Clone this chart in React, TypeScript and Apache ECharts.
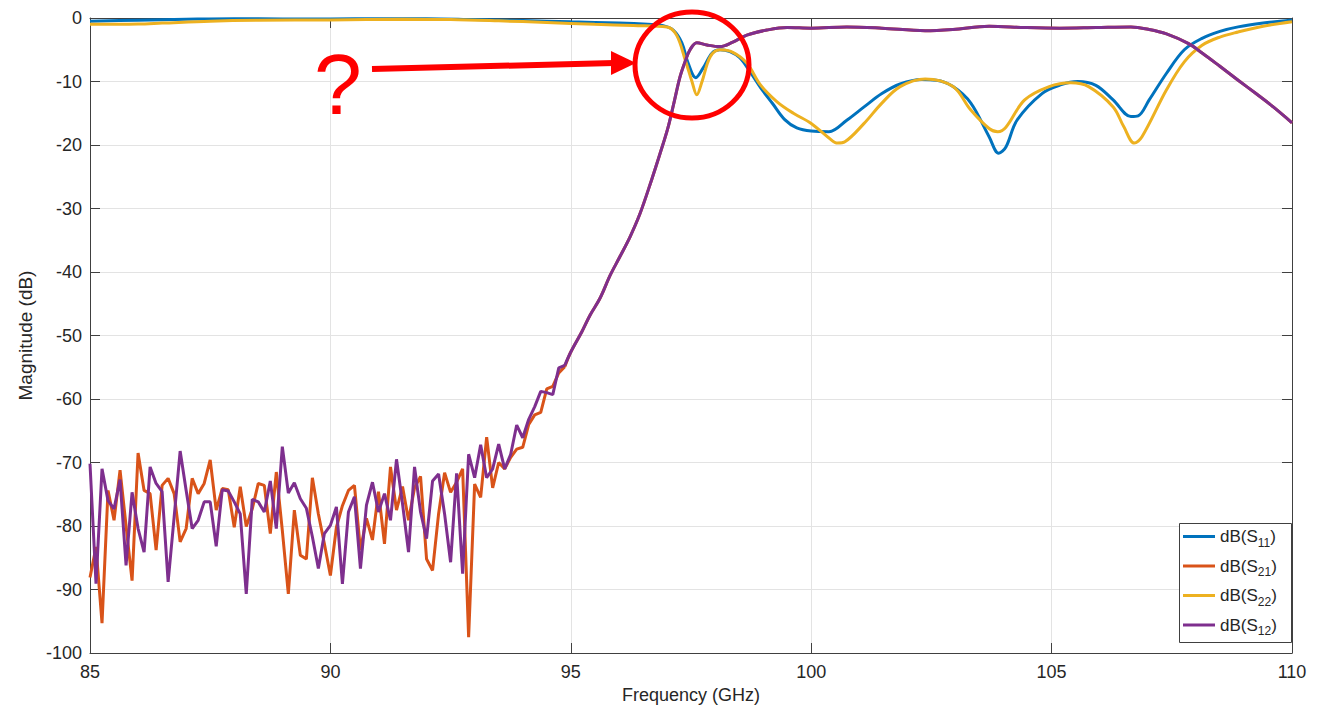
import React, { useEffect, useRef } from "react";
import * as echarts from "echarts";

// ---------- data ----------
const FREQ_MIN = 85;
const FREQ_MAX = 110;
const MAG_MIN = -100;
const MAG_MAX = 0;

// noisy stop-band sweep: 85 GHz, step 0.125 GHz
const NOISE_START = 85;
const NOISE_STEP = 0.125;

const s21Noise = [
  -88.1, -83.3, -95.3, -74.4, -79.1, -71.2, -80.0, -88.6, -68.5, -74.4,
  -74.9, -83.8, -73.6, -72.5, -74.9, -82.5, -80.4, -72.5, -74.9, -73.3,
  -69.6, -77.5, -74.1, -74.3, -80.2, -73.8, -80.1, -77.3, -73.3, -73.6,
  -81.2, -71.5, -80.7, -90.7, -77.5, -84.6, -85.2, -72.4, -78.1, -82.8,
  -87.8, -80.2, -76.8, -74.4, -73.6, -83.8, -78.8, -82.2, -74.6, -82.8,
  -70.7, -77.5, -73.8, -79.1, -74.0, -72.2, -85.2, -87.0, -78.1, -71.6,
  -74.7, -73.1, -71.0, -97.5, -73.4, -75.5, -66.0, -74.0, -70.0, -71.0,
  -69.2, -67.9, -67.6, -64.0, -62.5, -62.1, -58.4, -58.0, -55.9, -54.9,
];

const s12Noise = [
  -70.2, -89.1, -71.0, -76.0, -77.3, -72.7, -86.2, -74.7, -80.4, -84.1,
  -70.7, -73.3, -74.6, -88.8, -78.6, -68.2, -74.4, -80.4, -79.1, -76.2,
  -76.2, -83.2, -74.3, -74.5, -76.2, -78.1, -90.7, -75.8, -76.2, -77.8,
  -72.9, -80.4, -67.5, -74.8, -73.2, -75.7, -77.2, -81.7, -86.7, -81.2,
  -79.9, -77.0, -89.1, -77.8, -75.4, -86.7, -76.7, -73.1, -77.8, -74.9,
  -79.1, -69.5, -76.5, -84.1, -70.7, -77.8, -82.0, -72.9, -71.8, -78.1,
  -85.7, -71.7, -87.5, -68.7, -72.4, -67.2, -72.4, -71.0, -67.1, -71.0,
  -68.7, -64.1, -66.1, -63.2, -61.2, -58.8, -59.0, -59.3, -55.1, -54.7,
];

// transmission above 95 GHz (S21 and S12 coincide)
const thruFreq = [
  95.0, 95.23, 95.4, 95.61, 95.82, 96.02, 96.23, 96.44, 96.68, 96.85,
  97.02, 97.15, 97.27, 97.38, 97.48, 97.62, 97.83, 98.1, 98.37, 98.66,
  99.08, 99.5, 100.0, 100.74, 101.47, 102.37, 102.95, 103.7, 104.44, 105.17,
  105.92, 106.65, 107.03, 107.39, 107.84, 108.13, 108.5, 108.88, 109.25, 109.61,
  110.0,
];
const thruMag = [
  -52.6, -49.4, -46.8, -44.1, -40.5, -37.6, -34.5, -30.8, -25.5, -21.5,
  -17.3, -13.2, -9.3, -6.8, -5.0, -3.9, -4.25, -4.5, -3.8, -2.7,
  -1.9, -1.5, -1.6, -1.4, -1.6, -2.0, -1.8, -1.3, -1.5, -1.6,
  -1.5, -1.4, -1.8, -2.5, -4.0, -5.5, -7.6, -9.8, -11.9, -14.0,
  -16.5,
];

const s11Freq = [
  85, 86, 87, 88, 89, 90, 91, 92, 93, 94,
  95, 96, 96.6, 96.92, 97.13, 97.31, 97.44, 97.6, 97.75, 97.94,
  98.1, 98.31, 98.52, 98.73, 98.95, 99.2, 99.45, 99.7, 100.0, 100.37,
  100.74, 101.1, 101.47, 101.85, 102.3, 102.6, 102.95, 103.32, 103.7, 103.9,
  104.05, 104.28, 104.8, 105.2, 105.54, 105.92, 106.28, 106.65, 106.8, 107.03,
  107.39, 107.76, 108.13, 108.5, 108.88, 109.4, 110,
];
const s11Mag = [
  -0.5, -0.35, -0.2, -0.1, -0.15, -0.15, -0.1, -0.1, -0.25, -0.4,
  -0.6, -0.8, -1.0, -1.2, -1.9, -3.9, -7.1, -9.4, -7.9, -5.5,
  -5.0, -5.3, -6.3, -8.5, -11.0, -13.5, -16.0, -17.3, -17.8, -17.9,
  -16.1, -14.0, -11.9, -10.4, -9.7, -9.8, -10.8, -13.4, -18.7, -21.3,
  -20.3, -16.1, -11.9, -10.5, -10.0, -10.6, -12.9, -15.5, -15.4, -12.9,
  -8.7, -5.0, -3.2, -2.1, -1.4, -0.8, -0.3,
];

const s22Freq = [
  85, 86, 86.5, 87.5, 88.5, 90, 91.5, 92.5, 93.5, 94.5,
  95.5, 96.3, 97.0, 97.2, 97.38, 97.52, 97.62, 97.73, 97.9, 98.1,
  98.37, 98.66, 98.94, 99.29, 99.63, 100.0, 100.37, 100.55, 100.7, 101.1,
  101.47, 101.85, 102.37, 102.95, 103.32, 103.7, 103.88, 104.05, 104.44, 104.95,
  105.4, 105.77, 106.28, 106.5, 106.72, 106.88, 107.39, 107.76, 108.13, 108.5,
  108.88, 109.4, 110,
];
const s22Mag = [
  -1.0, -0.95, -0.8, -0.5, -0.35, -0.3, -0.2, -0.25, -0.45, -0.7,
  -1.0, -1.2, -1.4, -2.7, -6.6, -10.0, -12.1, -10.0, -6.1, -5.0,
  -5.4, -7.1, -10.5, -13.2, -15.0, -16.6, -18.9, -19.7, -19.5, -16.6,
  -13.4, -10.8, -9.6, -10.8, -14.5, -17.4, -17.9, -17.2, -12.9, -10.8,
  -10.2, -10.8, -14.0, -17.1, -19.7, -18.7, -11.3, -6.9, -4.3, -3.0,
  -2.2, -1.3, -0.6,
];

const seriesNames = ["S11", "S21", "S22", "S12"];
const seriesColors = ["#0072BD", "#D95319", "#EDB120", "#7E2F8E"];
const xTicks = { interval: 5 };
const yTicks = { interval: 10 };

// ---------- helpers ----------
const zip = (xs: number[], ys: number[]) => xs.map((x, i) => [x, ys[i]]);
const noisePairs = (vals: number[]) =>
  vals.map((v, i) => [NOISE_START + i * NOISE_STEP, v]);

const FONT = "'Liberation Sans', Arial, sans-serif";
const TXT = "#262626";
const AX = "#404040";

export default function App() {
  const ref = useRef<HTMLDivElement>(null);

  useEffect(() => {
    if (!ref.current) return;
    const chart = echarts.init(ref.current, undefined, { renderer: "svg" });

    const s21N = noisePairs(s21Noise);
    const s12N = noisePairs(s12Noise);
    const thru = zip(thruFreq, thruMag);
    const s21T = [s21N[s21N.length - 1], ...thru];
    const s12T = [s12N[s12N.length - 1], ...thru];

    const lw = 3;
    const mk = (name: string, data: any[], smooth: any) => {
      const idx = seriesNames.indexOf(name);
      return {
        name,
        type: "line",
        data,
        smooth,
        showSymbol: false,
        symbol: "none",
        color: seriesColors[idx],
        lineStyle: { width: lw, color: seriesColors[idx] },
        emphasis: { disabled: true },
        z: 2 + idx,
      };
    };

    const commonX = {
      type: "value",
      min: FREQ_MIN,
      max: FREQ_MAX,
      interval: xTicks.interval,
    };
    const commonY = {
      type: "value",
      min: MAG_MIN,
      max: MAG_MAX,
      interval: yTicks.interval,
    };

    chart.setOption({
      animation: false,
      backgroundColor: "#ffffff",
      textStyle: { fontFamily: FONT },
      grid: { left: 90, right: 35, top: 18, bottom: 61, containLabel: false },
      xAxis: [
        {
          ...commonX,
          position: "bottom",
          name: "Frequency (GHz)",
          nameLocation: "middle",
          nameGap: 33,
          nameTextStyle: { fontFamily: FONT, fontSize: 18, color: TXT },
          axisLine: { show: true, onZero: false, lineStyle: { color: AX, width: 1 } },
          axisTick: { show: true, inside: true, length: 10, lineStyle: { color: AX } },
          axisLabel: { fontFamily: FONT, fontSize: 18, color: TXT, margin: 10 },
          splitLine: { show: true, lineStyle: { color: "#e3e3e3", width: 1 } },
        },
        {
          ...commonX,
          position: "top",
          axisLine: { show: true, onZero: false, lineStyle: { color: AX, width: 1 } },
          axisTick: { show: true, inside: true, length: 10, lineStyle: { color: AX } },
          axisLabel: { show: false },
          splitLine: { show: false },
        },
      ],
      yAxis: [
        {
          ...commonY,
          position: "left",
          name: "Magnitude (dB)",
          nameLocation: "middle",
          nameGap: 54,
          nameTextStyle: { fontFamily: FONT, fontSize: 19, color: TXT },
          axisLine: { show: true, onZero: false, lineStyle: { color: AX, width: 1 } },
          axisTick: { show: true, inside: true, length: 10, lineStyle: { color: AX } },
          axisLabel: { fontFamily: FONT, fontSize: 18, color: TXT, margin: 8 },
          splitLine: { show: true, lineStyle: { color: "#e3e3e3", width: 1 } },
        },
        {
          ...commonY,
          position: "right",
          axisLine: { show: true, onZero: false, lineStyle: { color: AX, width: 1 } },
          axisTick: { show: true, inside: true, length: 10, lineStyle: { color: AX } },
          axisLabel: { show: false },
          splitLine: { show: false },
        },
      ],
      legend: {
        data: seriesNames,
        orient: "vertical",
        left: 1183,
        top: 528,
        padding: 0,
        itemGap: 9,
        itemWidth: 32,
        itemHeight: 3,
        icon: "rect",
        z: 20,
        selectedMode: false,
        formatter: (name: string) => `{a|dB(S}{s|${name.slice(1)}}{a|)}`,
        textStyle: {
          fontFamily: FONT,
          color: TXT,
          rich: {
            a: { fontFamily: FONT, fontSize: 17, lineHeight: 24, color: TXT },
            s: {
              fontFamily: FONT,
              fontSize: 12,
              lineHeight: 11,
              verticalAlign: "bottom",
              color: TXT,
            },
          },
        },
      },
      graphic: [
        {
          type: "rect",
          z: 10,
          shape: { x: 1179.5, y: 523.5, width: 112, height: 119 },
          style: { fill: "#ffffff", stroke: "#404040", lineWidth: 1 },
        },
        {
          type: "ellipse",
          z: 30,
          shape: { cx: 692, cy: 65, rx: 57, ry: 53 },
          style: { fill: "none", stroke: "#ff0000", lineWidth: 5 },
        },
        {
          type: "line",
          z: 30,
          shape: { x1: 372, y1: 69, x2: 614, y2: 63 },
          style: { stroke: "#ff0000", lineWidth: 6 },
        },
        {
          type: "polygon",
          z: 30,
          shape: {
            points: [
              [611, 51],
              [636, 63],
              [611, 75],
            ],
          },
          style: { fill: "#ff0000" },
        },
        {
          type: "text",
          z: 30,
          x: 338,
          y: 84,
          style: {
            text: "?",
            fontFamily: FONT,
            fontSize: 86,
            fill: "#ff0000",
            align: "center",
            verticalAlign: "middle",
          },
        },
      ],
      series: [
        mk("S11", zip(s11Freq, s11Mag), 0.35),
        mk("S21", s21N, false),
        mk("S21", s21T, 0.35),
        mk("S22", zip(s22Freq, s22Mag), 0.35),
        mk("S12", s12N, false),
        mk("S12", s12T, 0.35),
      ],
    });

    return () => chart.dispose();
  }, []);

  return (
    <div
      ref={ref}
      style={{
        position: "fixed",
        left: 0,
        top: 0,
        width: 1327,
        height: 714,
        background: "#fff",
      }}
    />
  );
}
